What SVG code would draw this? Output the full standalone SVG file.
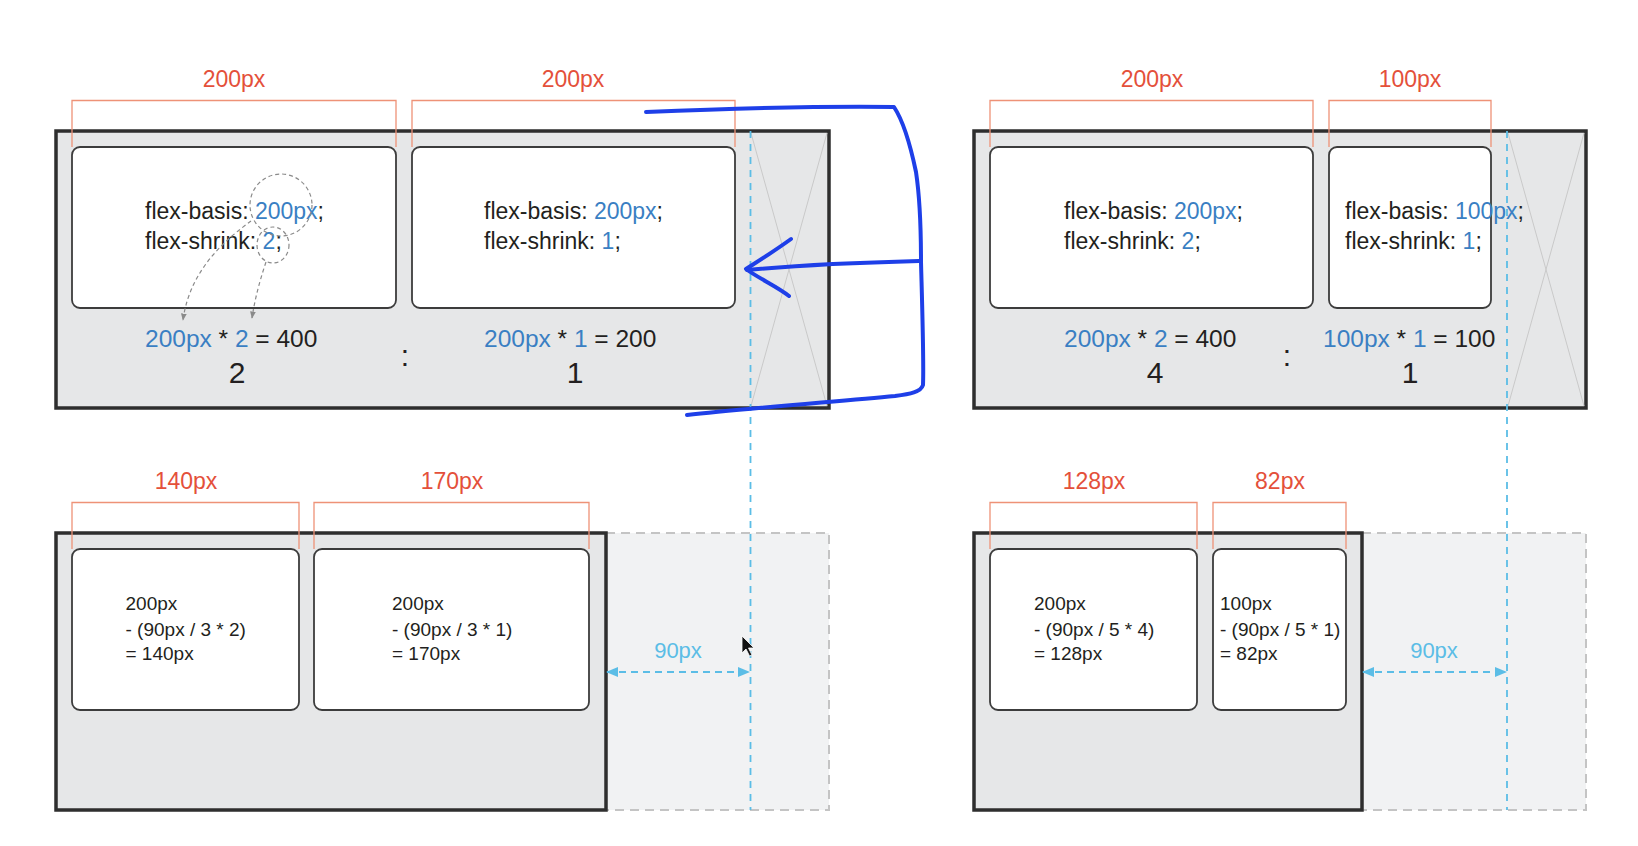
<svg xmlns="http://www.w3.org/2000/svg" width="1638" height="846" viewBox="0 0 1638 846">
<defs>
<style>
.outer{fill:#e6e7e8;stroke:#2e2e2e;stroke-width:3.5}
.ghost{fill:#f1f2f3;stroke:#c4c4c4;stroke-width:2;stroke-dasharray:9 6}
.item{fill:#fff;stroke:#3c3c3c;stroke-width:1.8}
.xline{stroke:#c9c9c9;stroke-width:1;fill:none}
.brk{fill:none;stroke:#ee9277;stroke-width:1.3}
.lbl{font-family:"Liberation Sans",Arial,sans-serif;font-size:23px;fill:#e4503a;text-anchor:middle}
.code{font-family:"Liberation Sans",Arial,sans-serif;font-size:23px;fill:#231f20}
.form{font-family:"Liberation Sans",Arial,sans-serif;font-size:24.5px;fill:#231f20}
.big{font-family:"Liberation Sans",Arial,sans-serif;font-size:30px;fill:#231f20;text-anchor:middle}
.calc{font-family:"Liberation Sans",Arial,sans-serif;font-size:19px;fill:#231f20}
.b{fill:#3a7fc3}
.gap{font-family:"Liberation Sans",Arial,sans-serif;font-size:22px;fill:#5bbde6;text-anchor:middle}
.guide{stroke:#5bbde6;stroke-width:1.8;stroke-dasharray:7 6;fill:none}
.dim{stroke:#5bbde6;stroke-width:1.8;stroke-dasharray:7 5;fill:none}
.hint{stroke:#8a8a8a;stroke-width:1.2;stroke-dasharray:4 3;fill:none}
.pen{stroke:#1e3fe8;stroke-width:4;fill:none;stroke-linecap:round;stroke-linejoin:round}
</style>
<marker id="ah" viewBox="0 0 10 10" refX="9" refY="5" markerWidth="7" markerHeight="7" orient="auto-start-reverse">
<path d="M0,1 L10,5 L0,9 Z" fill="#5bbde6"/>
</marker>
<marker id="gh" viewBox="0 0 10 10" refX="9" refY="5" markerWidth="6" markerHeight="6" orient="auto">
<path d="M0,1 L10,5 L0,9 Z" fill="#8a8a8a"/>
</marker>
</defs>

<g id="panel-top-left">
<rect class="outer" x="56" y="131" width="773" height="277"/>
<line class="xline" x1="751" y1="133" x2="827" y2="406"/>
<line class="xline" x1="827" y1="133" x2="751" y2="406"/>
</g>
<g id="panel-top-right">
<rect class="outer" x="974" y="131" width="612" height="277"/>
<line class="xline" x1="1508" y1="133" x2="1584" y2="406"/>
<line class="xline" x1="1584" y1="133" x2="1508" y2="406"/>
</g>
<g id="panel-bottom-left">
<rect class="ghost" x="606" y="533" width="223" height="277"/>
<rect class="outer" x="56" y="533" width="550" height="277"/>
</g>
<g id="panel-bottom-right">
<rect class="ghost" x="1362" y="533" width="224" height="277"/>
<rect class="outer" x="974" y="533" width="388" height="277"/>
</g>

<g id="item-tl-1">
<path class="brk" d="M72,147 V100.5 H396 V147"/>
<text class="lbl" x="234" y="87">200px</text>
<rect class="item" x="72" y="147" width="324" height="161" rx="8"/>
<text class="code" x="145" y="219">flex-basis: <tspan class="b">200px</tspan>;</text>
<text class="code" x="145" y="249">flex-shrink: <tspan class="b">2</tspan>;</text>
</g>
<g id="item-tl-2">
<path class="brk" d="M412,147 V100.5 H735 V147"/>
<text class="lbl" x="573" y="87">200px</text>
<rect class="item" x="412" y="147" width="323" height="161" rx="8"/>
<text class="code" x="484" y="219">flex-basis: <tspan class="b">200px</tspan>;</text>
<text class="code" x="484" y="249">flex-shrink: <tspan class="b">1</tspan>;</text>
</g>
<g id="ratio-tl">
<text class="form" x="145" y="347"><tspan class="b">200px</tspan> * <tspan class="b">2</tspan> = 400</text>
<text class="big" x="237" y="383">2</text>
<text class="big" x="405" y="366">:</text>
<text class="form" x="484" y="347"><tspan class="b">200px</tspan> * <tspan class="b">1</tspan> = 200</text>
<text class="big" x="575" y="383">1</text>
</g>

<g id="item-tr-1">
<path class="brk" d="M990,147 V100.5 H1313 V147"/>
<text class="lbl" x="1152" y="87">200px</text>
<rect class="item" x="990" y="147" width="323" height="161" rx="8"/>
<text class="code" x="1064" y="219">flex-basis: <tspan class="b">200px</tspan>;</text>
<text class="code" x="1064" y="249">flex-shrink: <tspan class="b">2</tspan>;</text>
</g>
<g id="item-tr-2">
<path class="brk" d="M1329,147 V100.5 H1491 V147"/>
<text class="lbl" x="1410" y="87">100px</text>
<rect class="item" x="1329" y="147" width="162" height="161" rx="8"/>
<text class="code" x="1345" y="219">flex-basis: <tspan class="b">100px</tspan>;</text>
<text class="code" x="1345" y="249">flex-shrink: <tspan class="b">1</tspan>;</text>
</g>
<g id="ratio-tr">
<text class="form" x="1064" y="347"><tspan class="b">200px</tspan> * <tspan class="b">2</tspan> = 400</text>
<text class="big" x="1155" y="383">4</text>
<text class="big" x="1287" y="366">:</text>
<text class="form" x="1323" y="347"><tspan class="b">100px</tspan> * <tspan class="b">1</tspan> = 100</text>
<text class="big" x="1410" y="383">1</text>
</g>

<g id="item-bl-1">
<path class="brk" d="M72,549 V502.5 H299 V549"/>
<text class="lbl" x="186" y="489">140px</text>
<rect class="item" x="72" y="549" width="227" height="161" rx="8"/>
<text class="calc" x="125.5" y="610">200px</text>
<text class="calc" x="125.5" y="635.5">- (90px / 3 * 2)</text>
<text class="calc" x="125.5" y="660">= 140px</text>
</g>
<g id="item-bl-2">
<path class="brk" d="M314,549 V502.5 H589 V549"/>
<text class="lbl" x="452" y="489">170px</text>
<rect class="item" x="314" y="549" width="275" height="161" rx="8"/>
<text class="calc" x="392" y="610">200px</text>
<text class="calc" x="392" y="635.5">- (90px / 3 * 1)</text>
<text class="calc" x="392" y="660">= 170px</text>
</g>
<g id="item-br-1">
<path class="brk" d="M990,549 V502.5 H1197 V549"/>
<text class="lbl" x="1094" y="489">128px</text>
<rect class="item" x="990" y="549" width="207" height="161" rx="8"/>
<text class="calc" x="1034" y="610">200px</text>
<text class="calc" x="1034" y="635.5">- (90px / 5 * 4)</text>
<text class="calc" x="1034" y="660">= 128px</text>
</g>
<g id="item-br-2">
<path class="brk" d="M1213,549 V502.5 H1346 V549"/>
<text class="lbl" x="1280" y="489">82px</text>
<rect class="item" x="1213" y="549" width="133" height="161" rx="8"/>
<text class="calc" x="1220" y="610">100px</text>
<text class="calc" x="1220" y="635.5">- (90px / 5 * 1)</text>
<text class="calc" x="1220" y="660">= 82px</text>
</g>

<g id="connectors">
<line class="guide" x1="750.5" y1="131" x2="750.5" y2="810"/>
<line class="guide" x1="1507" y1="131" x2="1507" y2="810"/>
<line class="dim" x1="607" y1="672" x2="749" y2="672" marker-start="url(#ah)" marker-end="url(#ah)"/>
<line class="dim" x1="1363" y1="672" x2="1506" y2="672" marker-start="url(#ah)" marker-end="url(#ah)"/>
<circle class="hint" cx="281" cy="205" r="31"/>
<ellipse class="hint" cx="273" cy="245" rx="16" ry="18"/>
<path class="hint" d="M251,221 C228,238 190,268 183,320" marker-end="url(#gh)"/>
<path class="hint" d="M266,262 C260,280 255,298 252,318" marker-end="url(#gh)"/>
</g>

<g id="gap-labels">
<text class="gap" x="678" y="658">90px</text>
<text class="gap" x="1434" y="658">90px</text>
</g>

<g id="pen-annotation">
<path class="pen" d="M646,112 C720,109 830,106 894,107 C904,122 911,148 916,172 C921,205 921,240 921,262 C922,300 924,360 923,385 C921,392 910,394 895,396 C830,402 740,409 687,415"/>
<path class="pen" d="M919,261 C880,262 800,265 747,270"/>
<path class="pen" d="M791,239 C776,250 760,260 746,269 C758,278 778,287 789,296"/>
</g>

<g id="cursor">
<path d="M742,636 L742,653 L746,649 L749.5,656 L752,655 L748.5,648 L754,648 Z" fill="#111" stroke="#fff" stroke-width="0.8"/>
</g>
</svg>
